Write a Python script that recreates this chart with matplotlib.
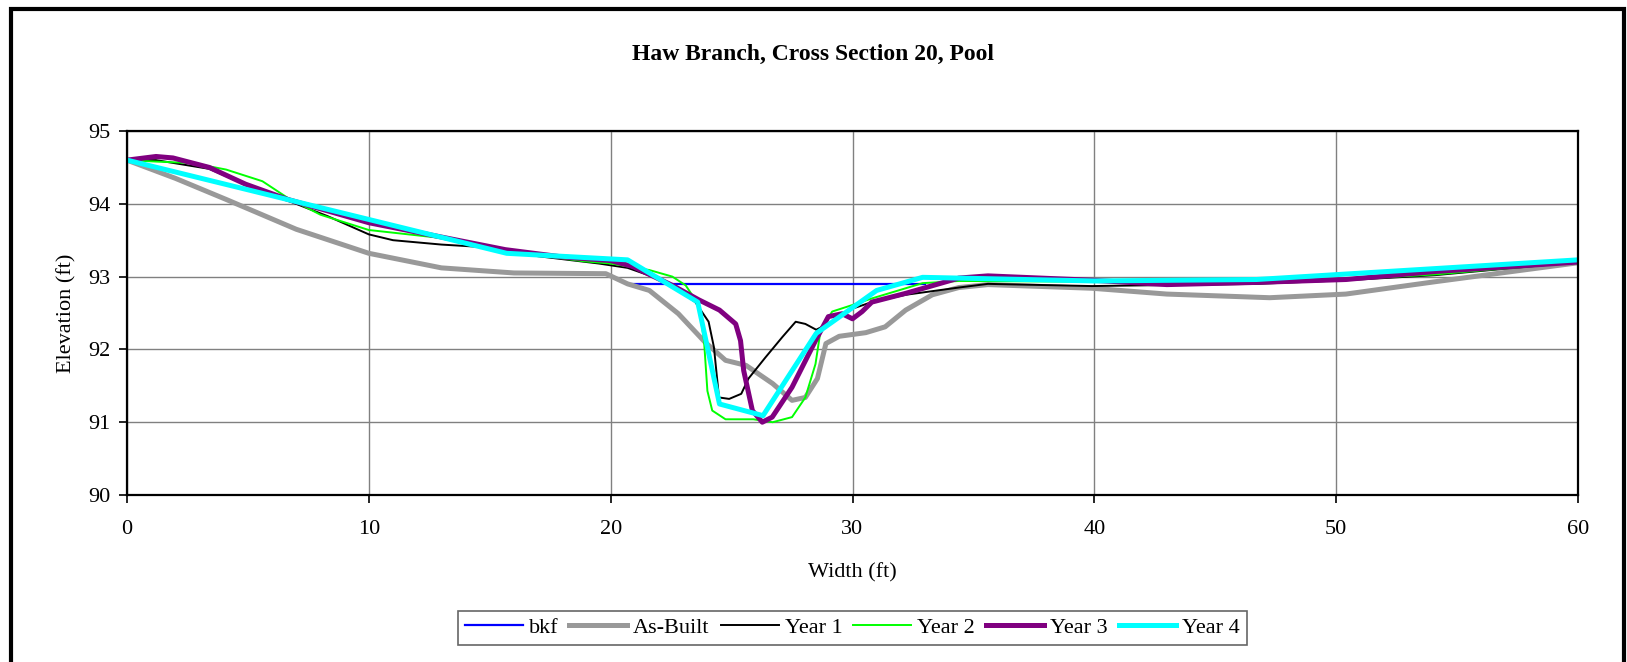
import matplotlib
matplotlib.use('Agg')
import matplotlib.pyplot as plt
from matplotlib.patches import Rectangle

plt.rcParams['font.family'] = ['Liberation Serif', 'DejaVu Serif']

# cross section data
bkf_x = [20.7, 33.0]
bkf_y = [92.9, 92.9]

asbuilt_x = [0, 2, 4.1, 7, 10, 13, 16, 19.8, 20.7, 21.6, 22.8, 23.9, 24.75, 25.6, 26.7, 27.5, 28.05,
             28.55, 28.9, 29.45, 30.55, 31.35, 32.2, 33.3, 34.4, 35.6, 39.9, 43, 47.25, 50.4, 54.1, 60]
asbuilt_y = [94.6, 94.35, 94.06, 93.65, 93.32, 93.12, 93.05, 93.04, 92.9, 92.81, 92.49, 92.1, 91.85, 91.78,
             91.53, 91.3, 91.34, 91.6, 92.08, 92.18, 92.23, 92.31, 92.54, 92.75, 92.85, 92.89, 92.84, 92.76,
             92.71, 92.76, 92.93, 93.19]

yr1_x = [0, 1.2, 3.4, 5, 6.6, 8.3, 10, 11, 13, 14.5, 17, 19.5, 20.7, 21.9, 22.6, 23.5, 24.05, 24.27, 24.48,
         24.9, 25.4, 25.7, 26.4, 27.1, 27.65, 28.05, 28.5, 29.15, 30, 30.8, 32.2, 34.4, 35.6, 39.9, 46.7,
         50.4, 54.1, 60]
yr1_y = [94.6, 94.6, 94.48, 94.25, 94.05, 93.83, 93.58, 93.5, 93.44, 93.41, 93.28, 93.18, 93.12, 92.98,
         92.86, 92.65, 92.38, 92.03, 91.34, 91.32, 91.39, 91.6, 91.89, 92.17, 92.38, 92.35, 92.27, 92.38,
         92.56, 92.65, 92.75, 92.85, 92.9, 92.87, 92.9, 92.95, 93.02, 93.2]

yr2_x = [0, 1.2, 2.7, 4.1, 5.6, 6.65, 8, 10, 13, 15.7, 18.9, 20, 21.6, 22.55, 23.1, 23.65, 23.86, 24.0, 24.2,
         24.75, 25.9, 26.7, 27.5, 28.05, 28.47, 28.68, 29.16, 30, 30.8, 32.9, 34.4, 40, 46.7, 50.4, 54.1, 60]
yr2_y = [94.6, 94.58, 94.56, 94.47, 94.31, 94.08, 93.85, 93.64, 93.53, 93.35, 93.21, 93.18, 93.09, 93.0,
         92.88, 92.61, 92.12, 91.43, 91.16, 91.04, 91.04, 91.0, 91.07, 91.34, 91.8, 92.26, 92.52, 92.61,
         92.7, 92.91, 92.94, 92.93, 92.93, 92.96, 93.03, 93.2]

yr3_x = [0, 1.2, 1.9, 3.4, 4.9, 6.65, 10, 15.65, 18, 20, 20.9, 22.55, 23.65, 24.5, 25.17, 25.37, 25.5, 25.86,
         26.27, 26.68, 27.5, 28.47, 29.0, 29.57, 30, 30.4, 30.8, 32.2, 34.4, 35.6, 39.9, 43, 46.7, 50.4,
         54.1, 60]
yr3_y = [94.6, 94.65, 94.63, 94.5, 94.27, 94.06, 93.74, 93.37, 93.27, 93.22, 93.14, 92.88, 92.68, 92.54,
         92.35, 92.12, 91.71, 91.16, 91.0, 91.07, 91.48, 92.12, 92.45, 92.49, 92.42, 92.52, 92.65, 92.77,
         92.98, 93.01, 92.95, 92.89, 92.92, 92.96, 93.07, 93.2]

yr4_x = [0, 15.7, 20.7, 23.6, 24.5, 26.3, 28.5, 31.0, 32.9, 40, 46.7, 60]
yr4_y = [94.6, 93.32, 93.23, 92.65, 91.25, 91.09, 92.22, 92.81, 92.99, 92.94, 92.96, 93.23]

fig = plt.figure(figsize=(16.27, 6.62), dpi=100)
ax = fig.add_axes([127/1627, 1-495/662, (1578-127)/1627, (495-131)/662])

ax.plot(bkf_x, bkf_y, color='#0000FF', lw=1.6, label='bkf')
ax.plot(asbuilt_x, asbuilt_y, color='#999999', lw=3.6, label='As-Built')
ax.plot(yr1_x, yr1_y, color='black', lw=1.4, label='Year 1')
ax.plot(yr2_x, yr2_y, color='#00FF00', lw=1.4, label='Year 2')
ax.plot(yr3_x, yr3_y, color='#800080', lw=3.6, label='Year 3')
ax.plot(yr4_x, yr4_y, color='#00FFFF', lw=3.6, label='Year 4')

ax.set_xlim(0, 60)
ax.set_ylim(90, 95)
ax.set_xticks(range(0, 61, 10))
ax.set_yticks(range(90, 96))
ax.grid(True, color='#808080', lw=1)
ax.set_axisbelow(True)
for s in ax.spines.values():
    s.set_linewidth(1.6)
    s.set_color('black')
ax.tick_params(direction='out', length=6, width=1.2, labelsize=16)
ax.tick_params(axis='x', pad=12)
ax.tick_params(axis='y', pad=6)

ax.set_xlabel('Width (ft)', fontsize=16, labelpad=17)
ax.set_ylabel('Elevation (ft)', fontsize=16, labelpad=8)
fig.text(0.5, 1-54/662, 'Haw Branch, Cross Section 20, Pool', ha='center', va='center',
         fontsize=17, fontweight='bold')

leg = ax.legend(loc='center', bbox_to_anchor=(852.5/1627, 1-628/662), bbox_transform=fig.transFigure,
                ncol=6, fontsize=16, frameon=True, fancybox=False, handlelength=2.6,
                handletextpad=0.27, columnspacing=0.5, borderpad=0.3, borderaxespad=0)
leg.get_frame().set_edgecolor('#404040')
leg.get_frame().set_linewidth(1.2)

# outer chart border
fig.patches.append(Rectangle((11/1627, -0.02), (1624-11)/1627, 1.02-9/662, transform=fig.transFigure,
                             fill=False, edgecolor='black', lw=3))

fig.savefig('out.png', dpi=100)
